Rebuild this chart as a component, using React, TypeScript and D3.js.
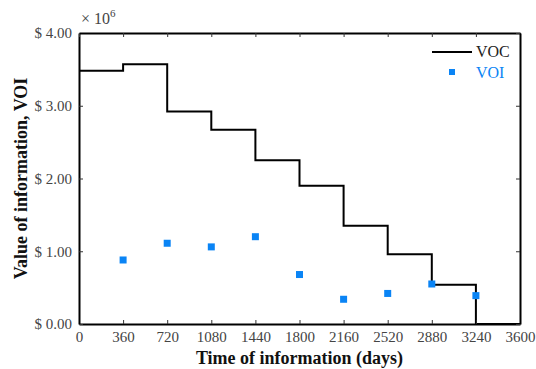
import * as d3 from "d3";
import { useEffect, useRef } from "react";

// step value of VOC in each 360-day interval (millions $)
const vocStarts = [0, 360, 720, 1080, 1440, 1800, 2160, 2520, 2880, 3240];
const vocValues = [3.48, 3.57, 2.92, 2.67, 2.25, 1.9, 1.35, 0.96, 0.54, 0];
// VOI points
const voiDays = [360, 720, 1080, 1440, 1800, 2160, 2520, 2880, 3240];
const voiValues = [0.88, 1.11, 1.06, 1.2, 0.68, 0.34, 0.42, 0.55, 0.39];
const xTicks = [0, 360, 720, 1080, 1440, 1800, 2160, 2520, 2880, 3240, 3600];
const yTicks = [0, 1, 2, 3, 4];

const blue = "#0a84f5";
const font = "Liberation Serif, DejaVu Serif, serif";

export default function App() {
  const ref = useRef<SVGSVGElement>(null);
  const width = 536;
  const height = 369;
  const m = { left: 79, right: 16, top: 33, bottom: 45 };

  useEffect(() => {
    const svg = d3.select(ref.current);
    svg.selectAll("*").remove();
    const x = d3.scaleLinear().domain([0, 3600]).range([m.left, width - m.right]);
    const y = d3.scaleLinear().domain([0, 4]).range([height - m.bottom, m.top]);

    const g = svg.append("g").attr("font-family", font);

    // VOC step line
    const pts: [number, number][] = vocStarts.map((d, i) => [d, vocValues[i]]);
    pts.push([3600, 0]);
    const line = d3.line<[number, number]>()
      .x(d => x(d[0]))
      .y(d => y(d[1]))
      .curve(d3.curveStepAfter);
    g.append("path")
      .attr("d", line(pts))
      .attr("fill", "none")
      .attr("stroke", "#000")
      .attr("stroke-width", 2);

    // VOI squares
    g.selectAll("rect.voi")
      .data(voiDays)
      .join("rect")
      .attr("class", "voi")
      .attr("x", (d) => x(d) - 3.5)
      .attr("y", (_d, i) => y(voiValues[i]) - 3.5)
      .attr("width", 7)
      .attr("height", 7)
      .attr("fill", blue);

    // axes (ticks inward on all sides)
    const fmt = (d: d3.NumberValue) => "$ " + d3.format(".2f")(d);
    const axisStyle = (sel: d3.Selection<SVGGElement, unknown, null, undefined>) => {
      sel.attr("font-family", font).attr("font-size", 15);
      sel.select(".domain").attr("stroke", "#000").attr("stroke-width", 2);
      sel.selectAll(".tick line").attr("stroke", "#333").attr("stroke-width", 1);
      sel.selectAll(".tick text")
        .style("font-family", font)
        .attr("font-size", 15)
        .attr("fill", "#444");
    };

    g.append("g")
      .attr("transform", `translate(0,${height - m.bottom})`)
      .call(d3.axisBottom(x).tickValues(xTicks).tickFormat(d3.format("d")).tickSize(-4).tickPadding(7).tickSizeOuter(0))
      .call(axisStyle);
    g.append("g")
      .attr("transform", `translate(${m.left},0)`)
      .call(d3.axisLeft(y).tickValues(yTicks).tickFormat(fmt).tickSize(-4).tickPadding(7).tickSizeOuter(0))
      .call(axisStyle);
    g.append("g")
      .attr("transform", `translate(0,${m.top})`)
      .call(d3.axisTop(x).tickValues(xTicks).tickSize(-4).tickFormat(() => "").tickSizeOuter(0))
      .call(axisStyle);
    g.append("g")
      .attr("transform", `translate(${width - m.right},0)`)
      .call(d3.axisRight(y).tickValues(yTicks).tickSize(-4).tickFormat(() => "").tickSizeOuter(0))
      .call(axisStyle);

    // exponent
    const ex = g.append("text")
      .attr("x", m.left + 2)
      .attr("y", 24)
      .attr("font-size", 16)
      .attr("fill", "#444");
    ex.append("tspan").text("× 10");
    ex.append("tspan").attr("dy", -7).attr("font-size", 11).text("6");

    // axis titles
    g.append("text")
      .attr("x", (m.left + width - m.right) / 2)
      .attr("y", 364)
      .attr("text-anchor", "middle")
      .attr("font-weight", "bold")
      .attr("font-size", 18)
      .attr("fill", "#111")
      .text("Time of information (days)");
    g.append("text")
      .attr("transform", `translate(27,${(m.top + height - m.bottom) / 2}) rotate(-90)`)
      .attr("text-anchor", "middle")
      .attr("font-weight", "bold")
      .attr("font-size", 18)
      .attr("fill", "#111")
      .text("Value of information, VOI");

    // legend
    const lg = g.append("g");
    lg.append("line")
      .attr("x1", 432).attr("x2", 472)
      .attr("y1", 52).attr("y2", 52)
      .attr("stroke", "#000").attr("stroke-width", 2);
    lg.append("text")
      .attr("x", 476).attr("y", 57)
      .attr("font-size", 16).attr("fill", "#222")
      .text("VOC");
    lg.append("rect")
      .attr("x", 449).attr("y", 69).attr("width", 6).attr("height", 6)
      .attr("fill", blue);
    lg.append("text")
      .attr("x", 476).attr("y", 78)
      .attr("font-size", 16).attr("fill", blue)
      .text("VOI");
  }, []);

  return (
    <svg
      ref={ref}
      width={width}
      height={height}
      style={{ position: "absolute", left: 0, top: 0, background: "#fff" }}
    />
  );
}
